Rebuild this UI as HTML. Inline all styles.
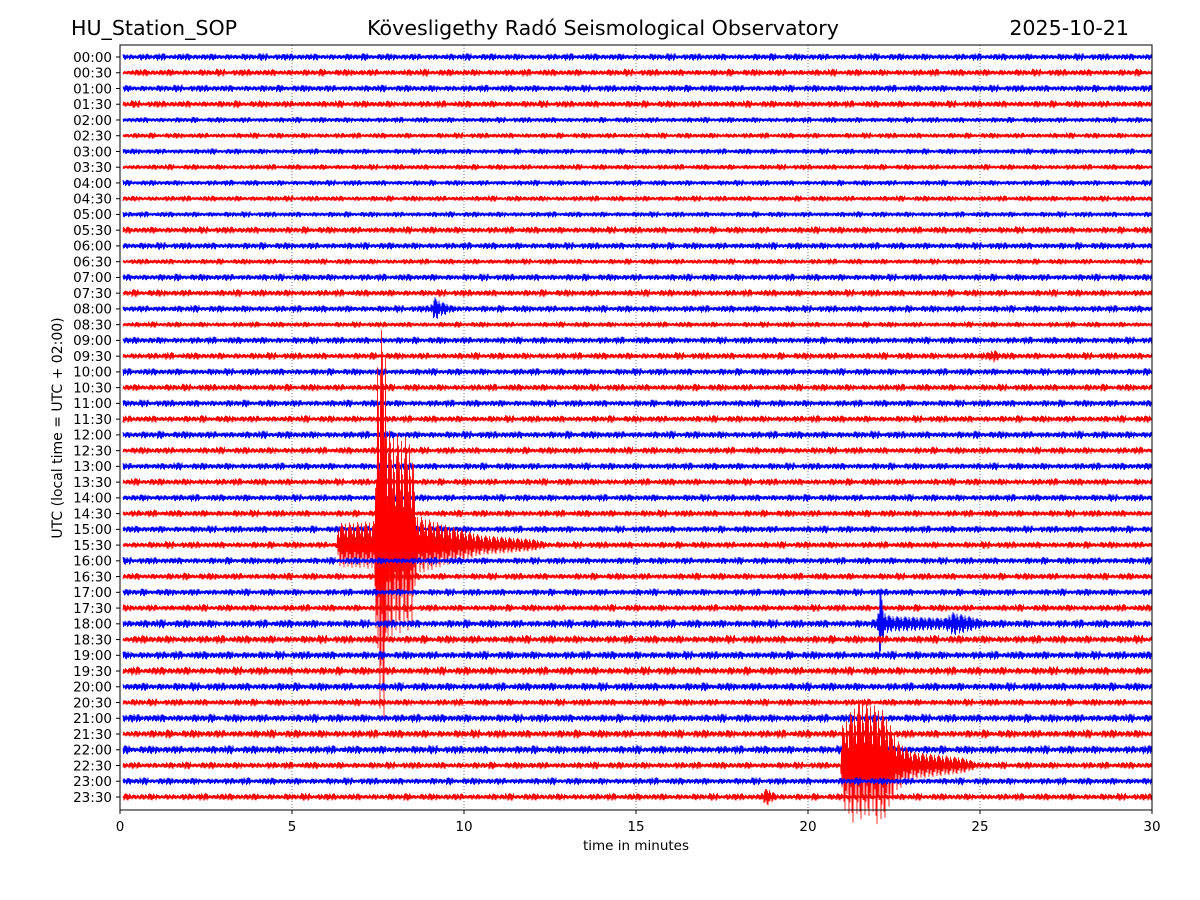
<!DOCTYPE html>
<html><head><meta charset="utf-8"><style>
html,body{margin:0;padding:0;background:#fff;}
svg{display:block;font-family:"DejaVu Sans","Liberation Sans",sans-serif;}
</style></head><body>
<svg id="chart" width="1200" height="900" viewBox="0 0 1200 900">
<text x="71" y="35" font-size="20.6">HU_Station_SOP</text>
<text x="603" y="35" font-size="20.6" text-anchor="middle">Kövesligethy Radó Seismological Observatory</text>
<text x="1129" y="35" font-size="20.6" text-anchor="end">2025-10-21</text>
<g id="grid"></g>
<g id="traces"></g>
<rect x="120" y="45" width="1032" height="765" fill="none" stroke="#000" stroke-width="1"/>
<g id="yticks"></g>
<g id="xticks"></g>
<text x="636" y="850" font-size="13.5" text-anchor="middle">time in minutes</text>
<text transform="translate(62,428) rotate(-90)" font-size="14" text-anchor="middle">UTC (local time = UTC + 02:00)</text>
</svg>
<script>
const rowLabels = [];
for (let h = 0; h < 24; h++) { const hh = String(h).padStart(2,'0'); rowLabels.push(hh+':00'); rowLabels.push(hh+':30'); }
const xTicks = [0,5,10,15,20,25,30];
// baseline noise amplitude per row (px)
const rowNoise = [2.8,2.8,2.8,2.8,2.3,2.3,2.3,2.3,2.3,2.3,2.3,2.8,2.8,2.3,2.8,2.8,2.8,2.3,2.8,2.8,2.8,2.8,2.8,2.8,3,2.8,2.8,2.8,2.8,2.8,2.8,2.8,2.8,2.8,2.8,2.8,3.3,3.3,3.3,3.3,3.3,2.8,3.3,3.3,3.3,2.8,2.8,2.8];
// events: row index and envelope points (minute, amplitude px)
const ev1Row = 16; const ev1Min = [9.0,9.15,9.3,9.6,10.0]; const ev1Amp = [2,12,8,4,2];
const ev2Row = 31; const ev2Min = [6.3,6.35,7.4,7.5,7.7,7.8,8.5,8.6,9.5,10.5,12,12.5]; const ev2Amp = [2,22,24,215,215,115,105,30,20,10,6,2.5];
const ev3Row = 36; const ev3Min = [22.0,22.1,22.2,22.4,24.0,24.2,25.0,25.3]; const ev3Amp = [3,42,12,8,6,12,5,3];
const ev4Row = 45; const ev4Min = [20.95,21.0,21.5,22.2,22.6,23.0,24.5,25.0]; const ev4Amp = [2,40,68,55,25,14,8,2.5];
const ev5Row = 19; const ev5Min = [25.2,25.4,25.6]; const ev5Amp = [2.5,7,2.5];
const ev6Row = 47; const ev6Min = [18.6,18.8,19.1]; const ev6Amp = [2.5,9,2.5];
const events = [[ev1Row,ev1Min,ev1Amp],[ev2Row,ev2Min,ev2Amp],[ev3Row,ev3Min,ev3Amp],[ev4Row,ev4Min,ev4Amp],[ev5Row,ev5Min,ev5Amp],[ev6Row,ev6Min,ev6Amp]];

const NS='http://www.w3.org/2000/svg';
const X0=120,X1=1152,Y0=57,DY=(797-57)/47;
const xs = m => X0 + (m/30)*(X1-X0);
const ys = r => Y0 + r*DY;
const pattern=[1,-0.55,0.8,-1,0.35,-0.85,0.65,-0.4,0.95,-0.7,0.5,-0.95,0.75,-0.3,0.9,-0.6];
const texture=[1,0.8,1.2,0.9,1.4,0.7,1.1,1.3,0.85,1.0,1.25,0.75];

function eventAt(row,m){
  let a=0;
  for(const [r,mins,amps] of events){
    if(r!==row) continue;
    if(m<mins[0]||m>mins[mins.length-1]) continue;
    for(let i=0;i<mins.length-1;i++){
      if(m>=mins[i]&&m<=mins[i+1]){const t=(m-mins[i])/(mins[i+1]-mins[i]);a=Math.max(a,amps[i]+(amps[i+1]-amps[i])*t);}
    }
  }
  return a;
}
const grid=document.getElementById('grid');
xTicks.slice(1,-1).forEach(v=>{
  const l=document.createElementNS(NS,'line');
  l.setAttribute('x1',xs(v));l.setAttribute('x2',xs(v));l.setAttribute('y1',45);l.setAttribute('y2',810);
  l.setAttribute('stroke','#555');l.setAttribute('stroke-width','0.8');l.setAttribute('stroke-dasharray','1,2');
  
  
  grid.appendChild(l);
});
const traces=document.getElementById('traces');
rowLabels.forEach((lab,r)=>{
  let d='';
  const n=X1-X0-3;
  for(let i=0;i<=n*2;i++){
    const px=X0+3+i/2; const m=(px-X0)/(X1-X0)*30;
    const tex=texture[(Math.floor(i/17)+r*5)%texture.length];
    const env=Math.max(rowNoise[r]*tex, eventAt(r,m));
    let s=pattern[(i*7+r*3)%pattern.length];
    if(s<0 && env>60) s*=0.8;
    const a=env*s;
    d+=(i?'L':'M')+px.toFixed(1)+' '+(ys(r)-a).toFixed(1);
  }
  const p=document.createElementNS(NS,'path');
  p.setAttribute('d',d);p.setAttribute('fill','none');
  p.setAttribute('stroke',r%2===0?'#0000ff':'#ff0000');p.setAttribute('stroke-width','0.8');
  
  
  traces.appendChild(p);
});
const yt=document.getElementById('yticks');
rowLabels.forEach((lab,r)=>{
  const l=document.createElementNS(NS,'line');
  l.setAttribute('x1',116);l.setAttribute('x2',120);l.setAttribute('y1',ys(r));l.setAttribute('y2',ys(r));l.setAttribute('stroke','#000');
  
  
  yt.appendChild(l);
  const t=document.createElementNS(NS,'text');
  t.setAttribute('x',112);t.setAttribute('y',ys(r)+4.8);t.setAttribute('font-size','13.5');t.setAttribute('text-anchor','end');
  t.textContent=lab;
  
  
  yt.appendChild(t);
});
const xt=document.getElementById('xticks');
xTicks.forEach(v=>{
  const l=document.createElementNS(NS,'line');
  l.setAttribute('x1',xs(v));l.setAttribute('x2',xs(v));l.setAttribute('y1',810);l.setAttribute('y2',814);l.setAttribute('stroke','#000');
  
  
  xt.appendChild(l);
  const t=document.createElementNS(NS,'text');
  t.setAttribute('x',xs(v));t.setAttribute('y',831);t.setAttribute('font-size','13.5');t.setAttribute('text-anchor','middle');
  t.textContent=v;
  
  
  xt.appendChild(t);
});
</script>
</body></html>
